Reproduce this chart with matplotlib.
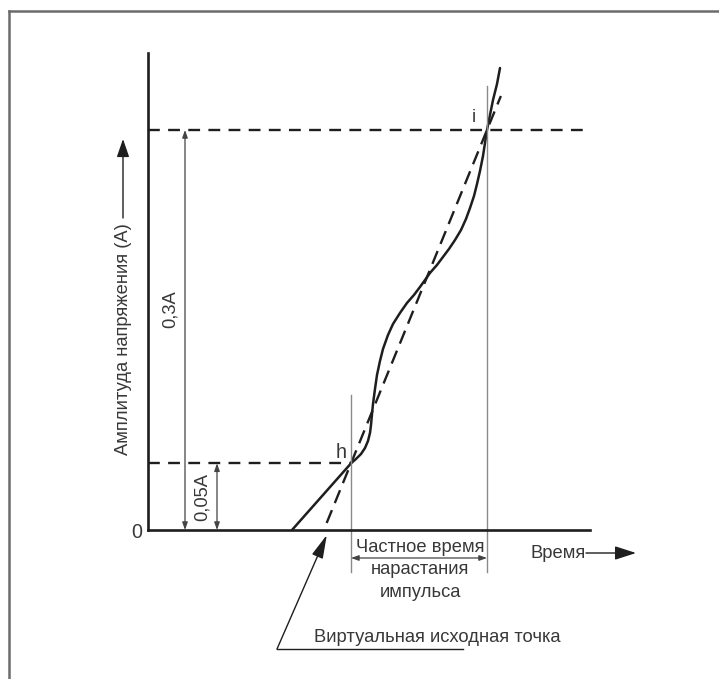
import matplotlib
matplotlib.use("Agg")
import matplotlib.pyplot as plt
from matplotlib.lines import Line2D

plt.rcParams['font.family'] = ['Liberation Sans', 'DejaVu Sans']
plt.rcParams['lines.scale_dashes'] = False

# Impulse front: time (arbitrary units) vs. amplitude (fraction of peak A)
front_t = [1.44, 2.03, 2.08, 2.13, 2.17, 2.20, 2.22, 2.23, 2.24, 2.25, 2.27,
           2.29, 2.32, 2.35, 2.40, 2.45, 2.52, 2.59, 2.66, 2.72, 2.77, 2.82,
           2.89, 2.95, 3.01, 3.07, 3.13, 3.18, 3.22, 3.26, 3.29, 3.32, 3.35,
           3.37, 3.39, 3.42, 3.45, 3.49, 3.52]
front_a = [0.0, 0.05, 0.0533, 0.057, 0.0615, 0.0668, 0.0728, 0.0788, 0.087,
           0.0945, 0.1058, 0.1163, 0.1268, 0.1358, 0.1463, 0.1545, 0.1628,
           0.1703, 0.1763, 0.1823, 0.1875, 0.1928, 0.1988, 0.2048, 0.2108,
           0.2175, 0.225, 0.2333, 0.2415, 0.2505, 0.2595, 0.2693, 0.2805,
           0.2903, 0.30, 0.3113, 0.3225, 0.3345, 0.3465]

# Reference levels and the points where the front crosses them
level_a = [0.05, 0.3]
level_labels = ["0,05A", "0,3A"]
point_labels = ["h", "i"]
point_t = [2.03, 3.39]

zero_label = "0"
y_title = "Амплитуда напряжения (A)"
x_title = "Время"
rise_label = "Частное время\nнарастания\nимпульса"
origin_label = "Виртуальная исходная точка"

W, H = 719, 679
PX_T, PX_A = 100.0, 400.0 / 0.3      # pixels per time unit / per amplitude unit
X0, Y0 = 148.0, 530.0                # pixel position of the origin


def tx(xp):
    return (xp - X0) / PX_T


def ay(yp):
    return (Y0 - yp) / PX_A


INK = '#1e1e1e'
TXT = '#383838'
THIN = '#8a8a8a'
FS = 13.2

fig = plt.figure(figsize=(W / 100, H / 100), dpi=100, facecolor='white')
ax = fig.add_axes([0, 0, 1, 1])
ax.set_xlim(tx(0), tx(W))
ax.set_ylim(ay(H), ay(0))

# axes drawn through the origin
for side in ('top', 'right'):
    ax.spines[side].set_visible(False)
ax.spines['left'].set_position(('data', 0))
ax.spines['bottom'].set_position(('data', 0))
ax.spines['left'].set_bounds(0, ay(53))
ax.spines['bottom'].set_bounds(0, tx(590))
for side in ('left', 'bottom'):
    ax.spines[side].set_linewidth(1.9)
    ax.spines[side].set_color(INK)
ax.set_xticks([])
ax.set_yticks([0])
ax.set_yticklabels([zero_label])
ax.tick_params(axis='y', length=0, pad=4, labelsize=FS + 1, labelcolor=TXT)

dash = (0, (8.5, 6.0))

# dashed reference levels
ax.plot([0, point_t[0]], [level_a[0]] * 2, color=INK, lw=1.7, linestyle=dash,
        dash_capstyle='butt')
ax.plot([0, tx(590)], [level_a[1]] * 2, color=INK, lw=1.7, linestyle=dash,
        dash_capstyle='butt')

# straight line through h and i, extended to the virtual origin
slope = (level_a[1] - level_a[0]) / (point_t[1] - point_t[0])
t_origin = point_t[0] - level_a[0] / slope
a_lo, a_hi = ay(523), ay(96)
ax.plot([t_origin + a_lo / slope, t_origin + a_hi / slope], [a_lo, a_hi],
        color=INK, lw=1.7, linestyle=(0, (10, 5.5)), dash_capstyle='butt')

# the actual impulse front
ax.plot(front_t, front_a, color=INK, lw=1.8, solid_joinstyle='round',
        solid_capstyle='round')

# thin verticals at h and i
ax.plot([point_t[0]] * 2, [ay(572), ay(395)], color=THIN, lw=1.0)
ax.plot([point_t[1]] * 2, [ay(572), ay(86)], color=THIN, lw=1.0)

# point labels
ax.text(tx(341), ay(453), point_labels[0], ha='center', va='center',
        fontsize=FS + 1, color=TXT)
ax.text(tx(474), ay(118), point_labels[1], ha='center', va='center',
        fontsize=FS, color=TXT)

# amplitude dimension lines
dim_style = '<|-|>,head_length=0.45,head_width=0.16'
for x_px, lvl in zip([217, 185], level_a):
    ax.annotate('', xy=(tx(x_px), lvl), xytext=(tx(x_px), 0),
                arrowprops=dict(arrowstyle=dim_style, mutation_scale=10,
                                lw=0.9, color='#444444', shrinkA=0, shrinkB=0))
ax.text(tx(202), ay(497), level_labels[0], rotation=90, ha='center',
        va='center', fontsize=FS, color=TXT)
ax.text(tx(170), ay(309), level_labels[1], rotation=90, ha='center',
        va='center', fontsize=FS, color=TXT)

# rise time dimension between h and i
ax.annotate('', xy=(point_t[1], ay(558)), xytext=(point_t[0], ay(558)),
            arrowprops=dict(arrowstyle=dim_style, mutation_scale=10,
                            lw=0.9, color='#444444', shrinkA=0, shrinkB=0))
ax.text(tx(420), ay(570), rise_label, ha='center', va='center',
        fontsize=FS, color=TXT, linespacing=1.45)

# axis titles with arrows
ax.text(tx(123), ay(339), y_title, rotation=90, ha='center', va='center',
        fontsize=FS, color=TXT)
ax.annotate('', xy=(tx(123), ay(139)), xytext=(tx(123), ay(218)),
            arrowprops=dict(arrowstyle='-|>,head_length=1.1,head_width=0.38',
                            mutation_scale=10, lw=1.0, color=INK,
                            shrinkA=0, shrinkB=0))
ax.text(tx(558), ay(553), x_title, ha='center', va='center',
        fontsize=FS, color=TXT)
ax.annotate('', xy=(tx(636), ay(553)), xytext=(tx(586), ay(553)),
            arrowprops=dict(arrowstyle='-|>,head_length=1.3,head_width=0.42',
                            mutation_scale=10, lw=1.0, color=INK,
                            shrinkA=0, shrinkB=0))

# virtual origin callout
ax.plot([tx(277), tx(463)], [ay(649), ay(649)], color=INK, lw=1.0)
ax.annotate('', xy=(t_origin + tx(3) - tx(0), ay(535)), xytext=(tx(277), ay(649)),
            arrowprops=dict(arrowstyle='-|>,head_length=1.2,head_width=0.3',
                            mutation_scale=12, lw=1.0, color=INK,
                            shrinkA=0, shrinkB=0))
ax.text(tx(437), ay(638), origin_label, ha='center', va='center',
        fontsize=FS, color=TXT)

# frame
fig.add_artist(Line2D([8.5 / W, 8.5 / W], [0, 1 - 10.5 / H],
                      transform=fig.transFigure, color='#6c6c6c', lw=1.8))
fig.add_artist(Line2D([8.5 / W, 1], [1 - 10.5 / H, 1 - 10.5 / H],
                      transform=fig.transFigure, color='#6c6c6c', lw=1.8))

fig.savefig('out.png', dpi=100, facecolor='white')
